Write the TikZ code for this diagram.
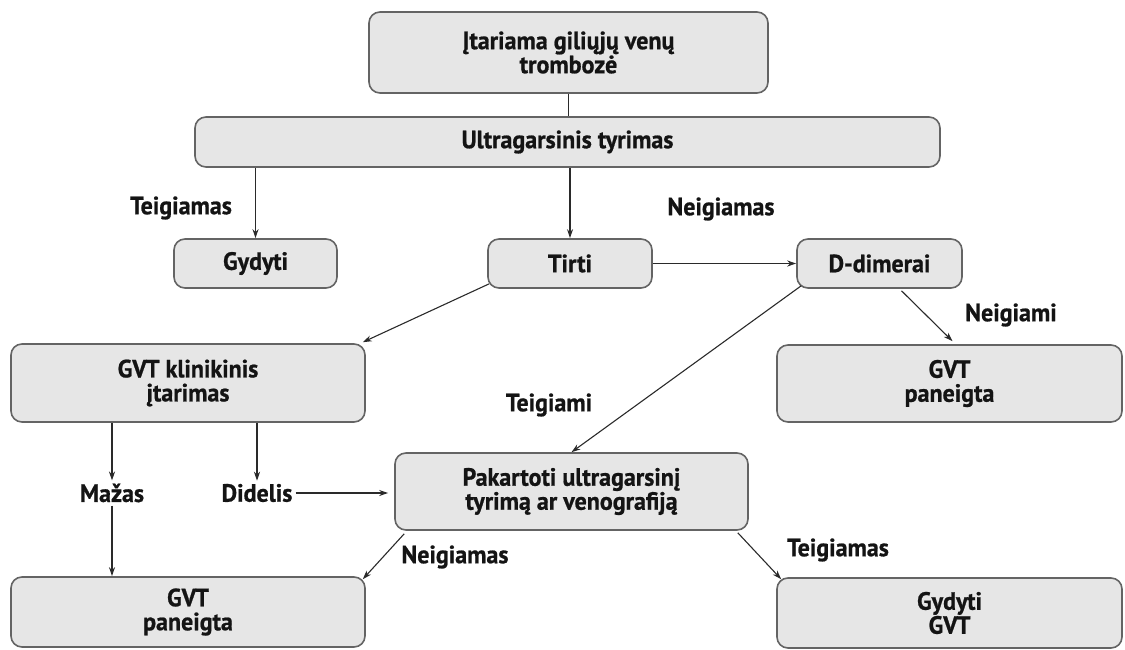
\documentclass[tikz,border=0pt]{standalone}
\usepackage{fontspec}
\setmainfont{PT Sans}[BoldFeatures={FakeBold=0.8, FakeStretch=0.96}]
\usetikzlibrary{arrows.meta,calc}
\definecolor{boxfill}{HTML}{E6E6E6}
\definecolor{boxline}{HTML}{646464}
\definecolor{txt}{HTML}{141414}
\definecolor{conn}{HTML}{2A2A2A}
\begin{document}
\begin{tikzpicture}[x=1pt,y=-1pt,
  box/.style={draw=boxline, fill=boxfill, line width=1.6pt, rounded corners=11pt, align=center,
    font=\bfseries\fontsize{25}{24}\selectfont, text=txt, inner sep=0pt},
  lbl/.style={font=\bfseries\fontsize{25}{24}\selectfont, text=txt, inner sep=3pt},
  arr/.style={draw=conn, line width=1.1pt, -{Stealth[length=9pt,width=6pt]}},
  ln/.style={draw=conn, line width=1.1pt}]
\useasboundingbox (0,0) rectangle (1125,650);

% boxes
\node[box, minimum width=399pt, minimum height=81pt] (top) at (568.5,52.5) {Įtariama giliųjų venų\\trombozė};
\node[box, minimum width=745pt, minimum height=50pt] (ultra) at (567.5,142) {Ultragarsinis tyrimas};
\node[box, minimum width=163pt, minimum height=49pt] (gydyti) at (255.5,263.5) {Gydyti};
\node[box, minimum width=164pt, minimum height=49pt] (tirti) at (570,263.5) {Tirti};
\node[box, minimum width=165pt, minimum height=49pt] (ddim) at (879.5,263.5) {D-dimerai};
\node[box, minimum width=354pt, minimum height=78pt] (klin) at (188,383) {GVT klinikinis\\įtarimas};
\node[box, minimum width=345pt, minimum height=77pt] (rneg) at (949.5,383.5) {GVT\\paneigta};
\node[box, minimum width=353pt, minimum height=77pt] (pak) at (571.5,491.5) {Pakartoti ultragarsinį\\tyrimą ar venografiją};
\node[box, minimum width=354pt, minimum height=70pt] (lneg) at (188,612) {GVT\\paneigta};
\node[box, minimum width=345pt, minimum height=70pt] (gvt) at (949.5,613) {Gydyti\\GVT};

% labels
\node[lbl] (l1) at (181,208) {Teigiamas};
\node[lbl] (l2) at (721,209) {Neigiamas};
\node[lbl] (l3) at (1011,315) {Neigiami};
\node[lbl] (l4) at (549,405) {Teigiami};
\node[lbl] (mazas) at (112,493) {Mažas};
\node[lbl] (didelis) at (257,493) {Didelis};
\node[lbl] (l7) at (455,557) {Neigiamas};
\node[lbl] (l8) at (838,550) {Teigiamas};

% connectors
\draw[ln] (top.south) -- (top.south |- ultra.north);
\draw[arr] (gydyti.north |- ultra.south) -- (gydyti.north);
\draw[arr] (tirti.north |- ultra.south) -- (tirti.north);
\draw[arr] (tirti.east) -- (ddim.west);
\draw[arr] ($(tirti.south west)+(2,-5)$) -- ($(klin.north east)+(-3,-1)$);
\draw[arr] ($(ddim.south west)+(5,-3)$) -- (pak.north);
\draw[arr] ($(ddim.south)+(22,2)$) -- ($(rneg.north)+(3,-3)$);
\draw[arr] (klin.south -| mazas.north) -- (mazas.north);
\draw[arr] (klin.south -| didelis.north) -- (didelis.north);
\draw[arr, shorten >=6pt] (didelis.east) -- (didelis.east -| pak.west);
\draw[arr] (mazas.south) -- (mazas.south |- lneg.north);
\draw[arr] ($(pak.south west)+(10,3)$) -- ($(lneg.north east)+(-3,3)$);
\draw[arr] ($(pak.south east)+(-11,2)$) -- ($(gvt.north west)+(5,2)$);
\end{tikzpicture}
\end{document}
